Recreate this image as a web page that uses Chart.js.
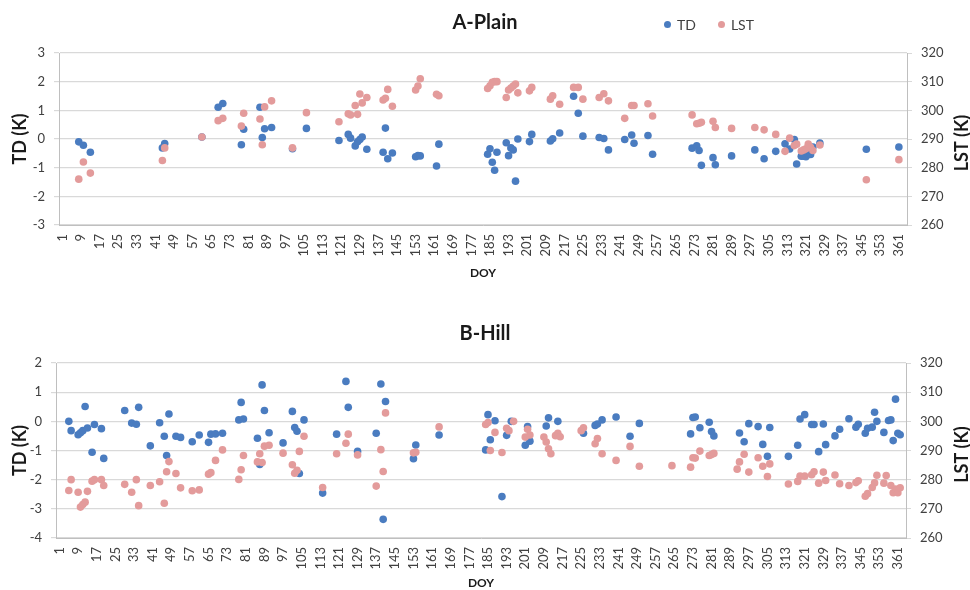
<!DOCTYPE html>
<html>
<head>
<meta charset="utf-8">
<title>TD / LST</title>
<script src="https://cdn.jsdelivr.net/npm/chart.js@4.4.1/dist/chart.umd.min.js"></script>
<style>
  body { margin: 0; background: #fff; font-family: Lato, sans-serif; }
  .panel { position: relative; width: 970px; }
  .panel canvas { display: block; }
  .legend { position: absolute; top: 16px; left: 664px; font-size: 14px; color: #404040; white-space: nowrap; }
  .legend span { margin-right: 22px; }
  .legend i { display: inline-block; width: 7px; height: 7px; border-radius: 50%; margin-right: 6px; vertical-align: 2px; }
</style>
</head>
<body>
<div class="panel" style="height:292px">
  <canvas id="plain" width="970" height="292"></canvas>
  <div class="legend">
    <span><i style="background:#4a7cc0"></i>TD</span><span><i style="background:#e39b9b"></i>LST</span>
  </div>
</div>
<div class="panel" style="height:298px">
  <canvas id="hill" width="970" height="298"></canvas>
</div>
<script>
const TD_COLOR = '#4a7cc0';
const LST_COLOR = '#e39b9b';

// DOY labels every 8 days
const doyTicks = [];
for (let d = 1; d <= 361; d += 8) doyTicks.push(d);

// A-Plain: TD and LST on the same days
const plainDoy = [8, 10, 13, 44, 45, 61, 68, 70, 78, 79, 86, 87, 88, 91, 100, 106,
  120, 124, 125, 127, 128, 129, 130, 132, 139, 140, 141, 143, 153, 154, 155, 162, 163,
  184, 185, 186, 187, 188, 192, 193, 194, 195, 196, 197, 202, 203, 211, 212, 215,
  221, 223, 225, 232, 234, 236, 243, 246, 247, 253, 255, 272, 274, 275, 276, 281, 282,
  289, 299, 303, 308, 312, 314, 316, 317, 319, 320, 321, 322, 323, 324, 327, 347, 361];
const plainTD = [-0.1, -0.22, -0.46, -0.31, -0.16, 0.07, 1.11, 1.24, -0.2, 0.34, 1.11, 0.05, 0.36, 0.4, -0.34, 0.37,
  -0.05, 0.16, 0.03, -0.24, -0.1, -0.02, 0.07, -0.36, -0.46, 0.38, -0.69, -0.49, -0.62, -0.58, -0.59, -0.94, -0.18,
  -0.53, -0.34, -0.81, -1.09, -0.46, -0.13, -0.58, -0.31, -0.38, -1.47, 0, -0.09, 0.16, -0.07, 0.01, 0.21,
  1.49, 0.9, 0.1, 0.05, 0.02, -0.38, -0.02, 0.14, -0.15, 0.12, -0.53, -0.32, -0.24, -0.4, -0.92, -0.65, -0.9,
  -0.59, -0.38, -0.69, -0.43, -0.17, -0.35, -0.02, -0.87, -0.6, -0.6, -0.62, -0.53, -0.54, -0.28, -0.14, -0.36, -0.28];
const plainLST = [276, 282, 278.1, 282.5, 286.9, 290.7, 296.4, 297.2, 294.5, 299, 297, 288, 301.2, 303.3, 286.9, 299.2,
  296, 298.8, 298.4, 301.7, 298.6, 305.7, 302.6, 304.5, 303.6, 304.2, 307.3, 301.4, 307.1, 308.5, 311, 305.6, 305.1,
  307.6, 308.6, 309.8, 310, 310, 304.5, 307.1, 307.8, 308.5, 309.2, 306.1, 306.8, 308, 303.9, 305.1, 302.1,
  308, 308, 303.9, 304.5, 305.8, 303.3, 297.2, 301.7, 301.7, 302.3, 298, 298.4, 295.3, 295.5, 295.8, 296.2, 294,
  293.7, 294, 293.2, 291.6, 285.7, 290.3, 287.7, 288.2, 285.8, 286.2, 286.6, 288.2, 287.1, 286, 287.9, 275.8, 282.8];

// B-Hill
const hillTdDoy = [5, 6, 9, 10, 11, 12, 13, 15, 16, 19, 20, 29, 32, 34, 35, 40, 44, 46, 47, 48,
  51, 53, 58, 61, 65, 66, 68, 71, 78, 79, 80, 86, 87, 88, 89, 91, 97, 101, 102, 103, 104, 106,
  114, 120, 124, 125, 129, 137, 139, 140, 141, 153, 154, 164, 184, 185, 186, 188, 191, 193, 195,
  201, 202, 203, 210, 211, 215, 226, 231, 232, 234, 240, 246, 250, 272, 273, 274, 276, 280, 281, 282,
  293, 295, 297, 301, 303, 305, 306, 314, 318, 319, 321, 324, 325, 327, 329, 330, 334, 336, 340,
  343, 344, 347, 348, 350, 351, 352, 355, 357, 358, 359, 360, 361, 362];
const hillTD = [0, -0.32, -0.46, -0.39, -0.32, 0.51, -0.23, -1.06, -0.11, -0.25, -1.27, 0.37, -0.06, -0.1, 0.48, -0.84, -0.05, -0.51, -1.17, 0.25,
  -0.51, -0.55, -0.7, -0.47, -0.72, -0.44, -0.43, -0.41, 0.05, 0.65, 0.08, -0.58, -1.48, 1.25, 0.37, -0.39, -0.74, 0.34, -0.21, -0.34, -1.79, 0.05,
  -2.46, -0.44, 1.37, 0.48, -1.03, -0.41, 1.28, -3.36, 0.68, -1.28, -0.81, -0.47, -0.98, 0.23, -0.63, 0.02, -2.58, -0.48, 0,
  -0.82, -0.18, -0.68, -0.16, 0.12, 0, -0.41, -0.14, -0.09, 0.05, 0.15, -0.51, -0.07, -0.43, 0.13, 0.15, -0.22, -0.03, -0.35, -0.5,
  -0.4, -0.7, -0.08, -0.18, -0.79, -1.2, -0.21, -1.2, -0.82, 0.08, 0.23, -0.11, -0.11, -1.04, -0.09, -0.8, -0.5, -0.27, 0.09,
  -0.2, -0.1, -0.41, -0.24, -0.2, 0.31, 0, -0.38, 0.03, 0.05, -0.66, 0.76, -0.41, -0.46];
const hillLstDoy = [5, 6, 9, 10, 11, 12, 13, 15, 16, 19, 20, 29, 32, 34, 35, 40, 44, 46, 47, 48,
  51, 53, 58, 61, 65, 66, 68, 71, 78, 79, 80, 86, 87, 88, 89, 91, 97, 101, 102, 103, 104, 106,
  114, 120, 124, 125, 129, 137, 139, 140, 141, 153, 154, 164, 184, 185, 186, 188, 191, 193, 194, 196,
  201, 202, 203, 209, 210, 211, 212, 214, 215, 216, 225, 226, 231, 232, 234, 240, 246, 250, 264,
  272, 273, 274, 276, 280, 281, 282, 292, 293, 295, 297, 301, 303, 305, 306, 314, 318, 319, 321,
  324, 325, 327, 329, 330, 334, 336, 340, 343, 344, 347, 348, 350, 351, 352, 355, 356, 358, 359, 360, 361, 362];
const hillLST = [276.3, 280, 275.7, 270.6, 271.5, 272.3, 276, 279.5, 280, 280, 278, 278.4, 275.7, 280, 271.1, 278, 279.3, 271.9, 282.7, 286.2,
  282.1, 277.2, 276.2, 276.5, 281.9, 282.4, 286.6, 290.2, 280.1, 283.4, 288.3, 286.1, 288.9, 285.9, 291.5, 291.8, 289.1, 285.1, 282.2, 283.2, 289.7, 294.9,
  277.3, 288.9, 292.5, 295.6, 288.5, 277.8, 290.3, 282.8, 302.9, 289.2, 289.4, 298.1, 298.9, 299.6, 290, 296.2, 289.3, 297.6, 296.8, 300,
  294.6, 297.3, 295.3, 294.6, 292.9, 290.6, 288.9, 295.1, 295.9, 294.7, 296.8, 297.8, 292.3, 294.1, 288.9, 286.6, 291.4, 284.6, 284.8,
  284.3, 287.5, 287.4, 289.8, 288.3, 288.6, 289, 283.6, 286.1, 288.7, 282.6, 287.5, 284.6, 281.1, 285.4, 278.5, 279.4, 281.2, 281.2,
  281.7, 282.7, 278.8, 282.6, 279.7, 281.6, 278.6, 278, 279, 279.6, 274.3, 275.2, 277.3, 278.9, 281.5, 278.8, 281.4, 278, 275.5, 276.8, 275.5, 277.2];

const TICK_FONT = { family: 'Lato', size: 13 };
const TEXT_DARK = '#1a1a1a';
const TICK_COLOR = '#404040';
const GRID_COLOR = '#d9d9d9';
const AXIS_COLOR = '#bfbfbf';

function toPoints(xs, ys) {
  return xs.map((x, i) => ({ x: x, y: ys[i] }));
}

// Secondary axis title, rotated the same way as the left one
const rightTitle = {
  id: 'rightTitle',
  afterDraw(chart) {
    const { ctx, chartArea } = chart;
    ctx.save();
    ctx.translate(962, (chartArea.top + chartArea.bottom) / 2 + 4);
    ctx.rotate(-Math.PI / 2);
    ctx.font = 'bold 18px Lato';
    ctx.fillStyle = TEXT_DARK;
    ctx.textAlign = 'center';
    ctx.textBaseline = 'middle';
    ctx.fillText('LST (K)', 0, 0);
    ctx.restore();
  }
};

function makePanel(id, p) {
  return new Chart(document.getElementById(id), {
    type: 'scatter',
    data: {
      datasets: [
        { label: 'TD', data: p.td, yAxisID: 'y', backgroundColor: TD_COLOR, borderWidth: 0, pointRadius: 3.8, order: 2 },
        { label: 'LST', data: p.lst, yAxisID: 'y1', backgroundColor: LST_COLOR, borderWidth: 0, pointRadius: 3.8, order: 1 }
      ]
    },
    options: {
      responsive: false,
      animation: false,
      layout: { padding: 0 },
      plugins: {
        legend: { display: false },
        tooltip: { enabled: false },
        title: {
          display: true,
          text: p.title,
          color: TEXT_DARK,
          font: { family: 'Lato', size: 20, weight: 'bold' },
          padding: p.titlePad
        }
      },
      scales: {
        x: {
          type: 'linear',
          min: -0.5,
          max: 364.5,
          afterBuildTicks: s => { s.ticks = doyTicks.map(v => ({ value: v })); },
          afterFit: s => { s.height = p.xHeight; },
          ticks: { autoSkip: false, minRotation: 90, maxRotation: 90, padding: 9, color: TICK_COLOR, font: TICK_FONT },
          grid: { display: false, drawTicks: false },
          border: { display: true, color: AXIS_COLOR },
          title: {
            display: true, text: 'DOY', color: TEXT_DARK,
            font: { family: 'Lato', size: 12, weight: 'bold' },
            padding: { top: 0, bottom: p.doyPad }
          }
        },
        y: {
          position: 'left',
          min: p.tdMin,
          max: p.tdMax,
          afterFit: s => { s.width = p.leftWidth; },
          ticks: { stepSize: 1, padding: 9, color: TICK_COLOR, font: TICK_FONT },
          grid: { color: GRID_COLOR, tickLength: 5, lineWidth: 1.2 },
          border: { color: AXIS_COLOR },
          title: {
            display: true, text: 'TD (K)', color: TEXT_DARK,
            font: { family: 'Lato', size: 18, weight: 'bold' },
            padding: { top: 9, bottom: 0 }
          }
        },
        y1: {
          position: 'right',
          min: 260,
          max: 320,
          afterFit: s => { s.width = p.rightWidth; },
          ticks: { stepSize: 10, padding: 9, color: TICK_COLOR, font: TICK_FONT },
          grid: { drawOnChartArea: false, color: GRID_COLOR, tickLength: 5 },
          border: { color: AXIS_COLOR }
        }
      }
    },
    plugins: [rightTitle]
  });
}

makePanel('plain', {
  title: 'A-Plain',
  td: toPoints(plainDoy, plainTD),
  lst: toPoints(plainDoy, plainLST),
  tdMin: -3, tdMax: 3,
  titlePad: { top: 11, bottom: 18 },
  xHeight: 67, doyPad: 12,
  leftWidth: 59, rightWidth: 63
});

makePanel('hill', {
  title: 'B-Hill',
  td: toPoints(hillTdDoy, hillTD),
  lst: toPoints(hillLstDoy, hillLST),
  tdMin: -4, tdMax: 2,
  titlePad: { top: 30, bottom: 17 },
  xHeight: 52, doyPad: 0,
  leftWidth: 56, rightWidth: 64
});
</script>
</body>
</html>
